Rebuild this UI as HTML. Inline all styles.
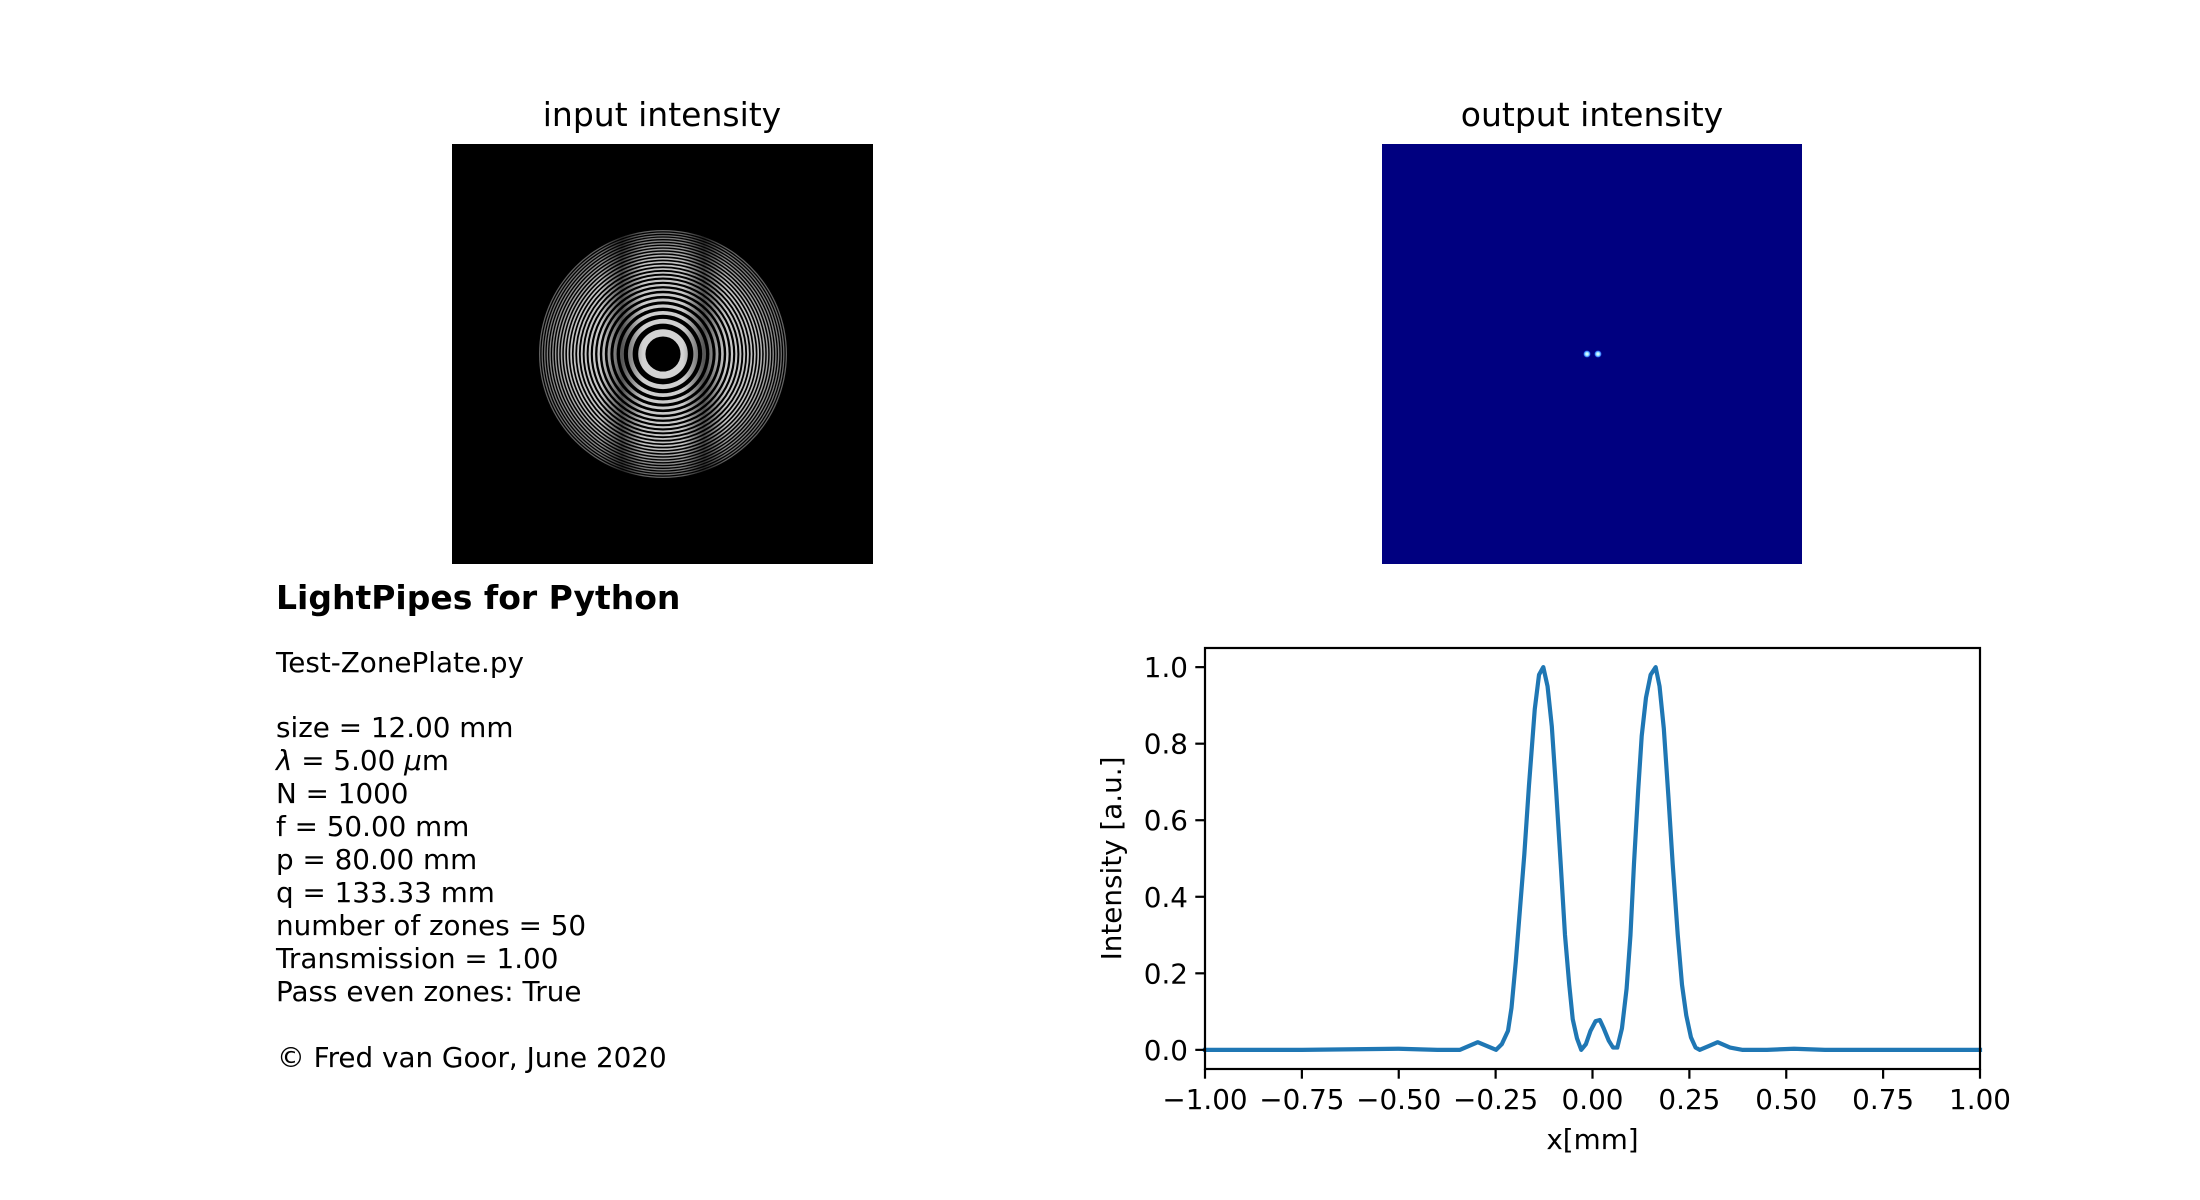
<!DOCTYPE html>
<html><head><meta charset="utf-8"><style>
html,body{margin:0;padding:0;background:#fff}
svg{display:block}
text{font-family:"DejaVu Sans","Liberation Sans",sans-serif;fill:#000}
</style></head><body>
<svg id="fig" width="2200" height="1200" viewBox="0 0 2200 1200" xmlns="http://www.w3.org/2000/svg">
<defs>
<radialGradient id="spot"><stop offset="0" stop-color="#ffffff"/><stop offset="0.4" stop-color="#a0f0ff"/><stop offset="0.75" stop-color="#3070ff"/><stop offset="1" stop-color="#000080" stop-opacity="0"/></radialGradient>
<linearGradient id="band" x1="0" x2="1" y1="0" y2="0">
<stop offset="0" stop-color="#000" stop-opacity="0"/>
<stop offset="0.5" stop-color="#000" stop-opacity="0.85"/>
<stop offset="1" stop-color="#000" stop-opacity="0"/>
</linearGradient>
<radialGradient id="edgefade" cx="663" cy="354" r="124" gradientUnits="userSpaceOnUse">
<stop offset="0" stop-color="#000" stop-opacity="0"/>
<stop offset="0.75" stop-color="#000" stop-opacity="0.1"/>
<stop offset="1" stop-color="#000" stop-opacity="0.55"/>
</radialGradient>
<clipPath id="zpclip"><circle cx="663" cy="354" r="124"/></clipPath>
</defs>
<text x="662" y="126" font-size="33" text-anchor="middle">input intensity</text>
<rect x="452" y="144" width="421" height="420" fill="#000"/>
<g id="zp"></g>
<text x="1592" y="126" font-size="33" text-anchor="middle">output intensity</text>
<rect x="1382" y="144" width="420" height="420" fill="#000080"/>
<circle cx="1587" cy="354" r="4" fill="url(#spot)"/>
<circle cx="1598" cy="354" r="4" fill="url(#spot)"/>
<g font-size="27.8">
<text x="276" y="609" font-size="33" font-weight="bold">LightPipes for Python</text>
<text x="276" y="672">Test-ZonePlate.py</text>
<text x="276" y="737">size = 12.00 mm</text>
<text x="276" y="770"><tspan font-style="italic">λ</tspan> = 5.00 <tspan font-style="italic">μ</tspan>m</text>
<text x="276" y="803">N = 1000</text>
<text x="276" y="836">f = 50.00 mm</text>
<text x="276" y="869">p = 80.00 mm</text>
<text x="276" y="902">q = 133.33 mm</text>
<text x="276" y="935">number of zones = 50</text>
<text x="276" y="968">Transmission = 1.00</text>
<text x="276" y="1001">Pass even zones: True</text>
<text x="277" y="1067">© Fred van Goor, June 2020</text>
</g>
<g id="plot"></g>
</svg>
<script>
const xData = [-1.0,-0.75,-0.5,-0.4,-0.342,-0.296,-0.249,-0.234,-0.218,-0.209,-0.198,-0.187,-0.176,-0.164,-0.149,-0.138,-0.127,-0.116,-0.105,-0.094,-0.082,-0.071,-0.060,-0.051,-0.040,-0.029,-0.017,-0.005,0.008,0.019,0.029,0.042,0.053,0.064,0.076,0.088,0.098,0.107,0.118,0.127,0.138,0.150,0.163,0.173,0.184,0.196,0.207,0.220,0.231,0.242,0.254,0.266,0.277,0.300,0.323,0.355,0.386,0.45,0.52,0.6,0.75,1.0];
const yData = [0,0,0.003,0,0,0.02,0,0.015,0.05,0.11,0.23,0.37,0.51,0.69,0.89,0.98,1.0,0.95,0.845,0.68,0.485,0.30,0.17,0.08,0.03,0.0,0.015,0.05,0.075,0.078,0.056,0.024,0.006,0.006,0.056,0.16,0.30,0.485,0.68,0.82,0.92,0.98,1.0,0.95,0.84,0.66,0.485,0.30,0.17,0.09,0.033,0.006,0,0.01,0.02,0.006,0,0,0.003,0,0,0];
const xTicks = [-1.0,-0.75,-0.5,-0.25,0.0,0.25,0.5,0.75,1.0];
const xTickLabels = ["\u22121.00","\u22120.75","\u22120.50","\u22120.25","0.00","0.25","0.50","0.75","1.00"];
const yTicks = [0.0,0.2,0.4,0.6,0.8,1.0];
const yTickLabels = ["0.0","0.2","0.4","0.6","0.8","1.0"];

const NS="http://www.w3.org/2000/svg";
function mk(tag, attrs, parent){const e=document.createElementNS(NS,tag);for(const k in attrs)e.setAttribute(k,attrs[k]);parent.appendChild(e);return e;}

// zone plate rings
const zp=document.getElementById('zp');
const R=124, cx=663, cy=354, NZ=50;
for(let n=NZ;n>=1;n--){
  const r=R*Math.sqrt(n/NZ);
  const c=mk('circle',{cx:cx,cy:cy,r:r,fill:(n%2===0)?'#d8d8d8':'#000'},zp);
  
  
}
const ef=mk('circle',{cx:cx,cy:cy,r:R+1,fill:'url(#edgefade)'},zp);


const b1=mk('rect',{x:cx-62,y:cy-R,width:42,height:2*R,fill:'url(#band)','clip-path':'url(#zpclip)',opacity:0.7},zp);


const b2=mk('rect',{x:cx+20,y:cy-R,width:42,height:2*R,fill:'url(#band)','clip-path':'url(#zpclip)',opacity:0.7},zp);



// plot
const P=document.getElementById('plot');
const L=1205,Rr=1980,T=648,B=1069;
const xmin=-1,xmax=1,ymin=-0.05,ymax=1.05;
const sx=v=>L+(v-xmin)/(xmax-xmin)*(Rr-L);
const sy=v=>B-(v-ymin)/(ymax-ymin)*(B-T);
let d='';
xData.forEach((x,i)=>{d+=(i?'L':'M')+sx(x).toFixed(2)+','+sy(yData[i]).toFixed(2);});
const line=mk('path',{d:d,fill:'none',stroke:'#1f77b4','stroke-width':4.2,'stroke-linejoin':'round','stroke-linecap':'square'},P);


const frame=mk('rect',{x:L,y:T,width:Rr-L,height:B-T,fill:'none',stroke:'#000','stroke-width':2.2},P);


xTicks.forEach((v,i)=>{
  const x=sx(v);
  const t=mk('line',{x1:x,x2:x,y1:B,y2:B+9.7,stroke:'#000','stroke-width':2.2},P);
  
  
  const tx=mk('text',{x:x,y:1109,'font-size':27.8,'text-anchor':'middle'},P);
  tx.textContent=xTickLabels[i];
  
  
});
yTicks.forEach((v,i)=>{
  const y=sy(v);
  const t=mk('line',{x1:L-9.7,x2:L,y1:y,y2:y,stroke:'#000','stroke-width':2.2},P);
  
  
  const tx=mk('text',{x:L-17,y:y+10,'font-size':27.8,'text-anchor':'end'},P);
  tx.textContent=yTickLabels[i];
  
  
});
const xl=mk('text',{x:(L+Rr)/2,y:1149,'font-size':27.8,'text-anchor':'middle'},P);
xl.textContent='x[mm]';


const yl=mk('text',{x:0,y:0,'font-size':27.8,'text-anchor':'middle',transform:'translate(1121,'+((T+B)/2)+') rotate(-90)'},P);
yl.textContent='Intensity [a.u.]';


</script>
</body></html>
